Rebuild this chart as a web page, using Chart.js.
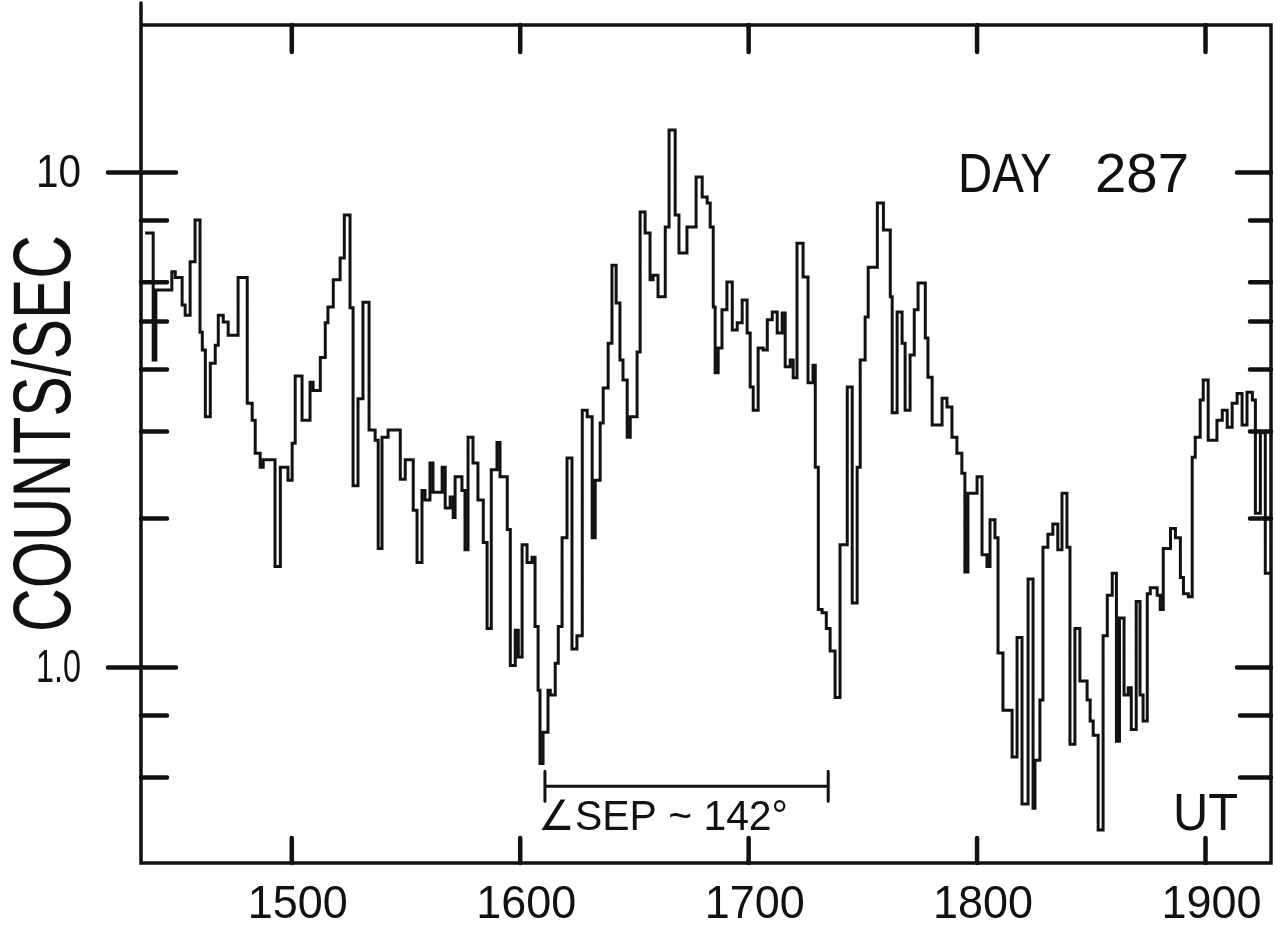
<!DOCTYPE html>
<html>
<head>
<meta charset="utf-8">
<title>Day 287 counting rate</title>
<script src="https://cdn.jsdelivr.net/npm/chart.js@4.4.1/dist/chart.umd.min.js"></script>
<style>
  html, body { margin: 0; padding: 0; background: #ffffff; }
  #wrap { width: 1285px; height: 933px; position: relative; }
</style>
</head>
<body>
<div id="wrap"><canvas id="chart" width="1285" height="933"></canvas></div>
<script>
// Step start times, in minutes of UT (900 = 1500 UT)
const utMinutes = [
  861.5, 863.6, 864.3, 868.5, 869.4, 871.2, 872.0, 873.3, 874.6, 875.9,
  876.5, 877.3, 878.6, 879.9, 880.7, 882.0, 883.3, 885.9, 888.3, 889.6,
  890.4, 891.7, 892.5, 895.6, 897.0, 899.0, 900.1, 900.9, 902.7, 904.8,
  905.6, 907.5, 908.8, 909.5, 910.9, 912.7, 913.8, 915.3, 916.1, 917.4,
  918.7, 920.3, 921.9, 922.7, 923.7, 925.3, 928.5, 929.8, 931.9, 932.9,
  934.2, 935.0, 936.3, 937.1, 939.5, 940.3, 941.6, 942.4, 942.9, 944.7,
  945.5, 946.3, 947.6, 948.9, 950.3, 951.3, 952.4, 953.9, 954.7, 956.6,
  957.4, 958.7, 959.5, 960.5, 961.8, 963.1, 963.9, 964.7, 965.2, 966.0,
  967.3, 967.9, 969.2, 970.0, 971.0, 972.3, 973.6, 974.9, 976.3, 977.6,
  978.9, 979.7, 981.0, 981.8, 983.1, 984.1, 985.2, 986.2, 987.0, 988.1,
  988.9, 990.7, 991.5, 992.8, 994.1, 994.9, 996.2, 998.1, 999.1, 1000.7,
  1001.7, 1003.8, 1006.2, 1007.8, 1009.1, 1009.9, 1010.7, 1011.2, 1012.0, 1013.0,
  1014.3, 1015.7, 1017.0, 1018.3, 1019.6, 1020.4, 1021.2, 1022.5, 1023.8, 1024.9,
  1026.2, 1027.5, 1028.8, 1029.6, 1030.9, 1031.7, 1032.7, 1034.3, 1035.6, 1036.9,
  1037.5, 1038.3, 1039.3, 1040.4, 1041.4, 1042.7, 1044.0, 1045.9, 1047.2, 1048.5,
  1049.3, 1050.6, 1051.4, 1053.8, 1055.4, 1057.2, 1057.7, 1059.0, 1060.3, 1061.1,
  1062.4, 1063.5, 1064.5, 1066.4, 1067.1, 1068.2, 1070.8, 1072.1, 1073.4, 1074.7,
  1076.0, 1076.8, 1077.6, 1080.0, 1081.3, 1082.6, 1083.4, 1084.7, 1085.5, 1086.8,
  1089.2, 1090.5, 1091.8, 1093.4, 1094.7, 1095.2, 1096.5, 1097.3, 1098.6, 1099.9,
  1101.2, 1102.3, 1103.6, 1104.4, 1105.7, 1107.0, 1108.9, 1109.7, 1110.5, 1111.8,
  1113.1, 1114.2, 1115.5, 1116.6, 1117.4, 1118.6, 1119.7, 1120.5, 1121.8, 1122.8,
  1123.6, 1124.7, 1125.5, 1127.3, 1128.1, 1128.9, 1130.8, 1132.1, 1133.4, 1134.2,
  1135.5, 1136.5, 1137.3, 1138.6, 1139.4, 1140.7, 1143.0, 1144.4, 1145.7, 1147.0,
  1148.3, 1149.6, 1150.9, 1152.3, 1153.1, 1154.4, 1155.7, 1157.2
];

// Counting rate in each step (counts/sec)
const countsPerSec = [
  7.55, 4.18, 5.79, 6.30, 6.14, 5.40, 5.15, 6.60, 8.02, 4.76,
  4.38, 3.21, 4.12, 4.48, 5.15, 4.99, 4.69, 6.14, 3.42, 3.16,
  2.71, 2.54, 2.63, 1.60, 2.54, 2.39, 2.84, 3.88, 3.16, 3.77,
  3.63, 4.23, 4.97, 5.35, 6.07, 6.72, 8.21, 5.33, 2.33, 3.49,
  5.47, 3.02, 2.88, 1.74, 2.92, 3.02, 2.40, 2.63, 2.08, 1.63,
  2.28, 2.18, 2.59, 2.26, 2.54, 2.10, 2.21, 2.01, 2.43, 2.28,
  1.73, 2.92, 2.59, 2.18, 1.79, 1.20, 2.51, 2.85, 2.43, 1.90,
  1.01, 1.19, 1.05, 1.77, 1.63, 1.67, 1.21, 0.90, 0.64, 0.74,
  0.90, 0.88, 1.02, 1.21, 1.83, 2.65, 1.09, 1.16, 3.31, 3.21,
  1.83, 2.39, 3.12, 3.67, 4.52, 6.50, 5.45, 4.18, 3.81, 2.92,
  3.21, 4.34, 8.32, 7.55, 6.07, 6.20, 5.61, 7.76, 12.18, 8.21,
  6.88, 7.76, 9.79, 8.92, 8.68, 7.76, 5.35, 3.94, 4.42, 5.28,
  6.01, 4.81, 4.97, 5.53, 4.74, 3.69, 3.31, 4.42, 4.38, 5.04,
  5.23, 4.74, 5.20, 4.05, 4.18, 3.85, 7.20, 6.15, 3.76, 4.08,
  2.54, 1.31, 1.29, 1.20, 1.08, 0.87, 1.77, 3.69, 1.35, 2.54,
  4.18, 5.11, 6.44, 8.68, 7.65, 5.61, 3.27, 5.23, 4.52, 3.31,
  4.28, 5.28, 5.98, 4.63, 3.86, 3.09, 3.50, 3.36, 2.92, 2.71,
  2.47, 1.56, 2.25, 2.43, 1.69, 1.60, 1.99, 1.83, 1.07, 0.82,
  0.66, 1.15, 0.53, 1.51, 0.52, 0.65, 0.86, 1.75, 1.86, 1.95,
  1.73, 2.25, 1.75, 0.70, 1.20, 0.94, 0.86, 0.78, 0.73, 0.47,
  1.16, 1.40, 1.55, 0.71, 1.26, 0.88, 0.91, 0.75, 1.36, 0.88,
  0.78, 1.41, 1.45, 1.40, 1.31, 1.74, 1.91, 1.83, 1.52, 1.41,
  1.39, 2.66, 2.92, 3.47, 3.81, 2.88, 3.16, 3.31, 3.06, 3.42,
  3.58, 3.09, 3.60, 3.47, 2.05, 2.98, 1.55, 1.55
];

// Hour ticks along the time axis
const xTickMinutes = [900, 960, 1020, 1080, 1140];
const xTickLabels = ['1500', '1600', '1700', '1800', '1900'];

// Logarithmic count-rate ticks; only the decades carry labels
const yTickValues = [0.6, 0.8, 1, 2, 3, 4, 5, 6, 8, 10];
const yMajorValues = [1, 10];
const yMajorLabels = ['1.0', '10'];

// Angular separation bar between the two minima (UT minutes, counts/sec level)
const sepSpanMinutes = [966.5, 1040.9];
const sepLevel = [0.576];
const sepLabel = ['\u2220SEP ~ 142\u00B0'];

const FONT = '"Liberation Sans", Arial, sans-serif';
const INK = '#111111';

// Draw text with a given cap height, stretched horizontally to a given width.
function fitText(ctx, str, x, baseY, capH, width, opts = {}) {
  const size = capH / 0.716;
  ctx.save();
  ctx.font = `${size}px ${FONT}`;
  const natural = ctx.measureText(str).width;
  const sx = width / natural;
  ctx.translate(x, baseY);
  if (opts.rotate) ctx.rotate(opts.rotate);
  ctx.scale(sx, 1);
  ctx.fillStyle = INK;
  ctx.textBaseline = 'alphabetic';
  ctx.textAlign = 'left';
  ctx.fillText(str, 0, 0);
  ctx.restore();
}

const framePlugin = {
  id: 'frame',
  afterDatasetsDraw(chart) {
    const { ctx, chartArea: a, scales } = chart;
    const xs = scales.x, ys = scales.y;
    ctx.save();
    ctx.strokeStyle = INK;
    ctx.lineCap = 'round';

    // Box; the left axis runs a little above the top edge
    ctx.lineWidth = 3.5;
    ctx.beginPath();
    ctx.moveTo(a.left, a.top - 22);
    ctx.lineTo(a.left, a.bottom);
    ctx.lineTo(a.right, a.bottom);
    ctx.lineTo(a.right, a.top);
    ctx.lineTo(a.left, a.top);
    ctx.stroke();

    // Time ticks on the bottom and top edges
    ctx.lineWidth = 4.5;
    xTickMinutes.forEach(t => {
      const px = xs.getPixelForValue(t);
      ctx.beginPath();
      ctx.moveTo(px, a.bottom);
      ctx.lineTo(px, a.bottom - 25);
      ctx.moveTo(px, a.top);
      ctx.lineTo(px, a.top + 27);
      ctx.stroke();
    });

    // Count-rate ticks on the left and right edges
    yTickValues.forEach(v => {
      const py = ys.getPixelForValue(v);
      const major = yMajorValues.includes(v);
      ctx.beginPath();
      if (major) {
        ctx.moveTo(a.left - 33, py);
        ctx.lineTo(a.left + 35, py);
      } else {
        ctx.moveTo(a.left, py);
        ctx.lineTo(a.left + 26, py);
      }
      const rLen = major ? 34 : (v < 1 ? 31 : 21);
      ctx.moveTo(a.right, py);
      ctx.lineTo(a.right - rLen, py);
      ctx.stroke();
    });

    // Separation bar with end caps
    const sx0 = xs.getPixelForValue(sepSpanMinutes[0]);
    const sx1 = xs.getPixelForValue(sepSpanMinutes[1]);
    const sy = ys.getPixelForValue(sepLevel[0]);
    ctx.lineWidth = 3;
    ctx.beginPath();
    ctx.moveTo(sx0, sy);
    ctx.lineTo(sx1, sy);
    ctx.moveTo(sx0, sy - 15);
    ctx.lineTo(sx0, sy + 15);
    ctx.moveTo(sx1, sy - 15);
    ctx.lineTo(sx1, sy + 15);
    ctx.stroke();
    ctx.restore();

    // Tick labels
    xTickMinutes.forEach((t, i) => {
      const px = xs.getPixelForValue(t) + 6;
      fitText(ctx, xTickLabels[i], px - 50, a.bottom + 55, 33, 100);
    });
    yMajorValues.forEach((v, i) => {
      const py = ys.getPixelForValue(v);
      fitText(ctx, yMajorLabels[i], a.left - 105, py + 14, 33, 45);
    });

    // Axis title and annotations
    fitText(ctx, 'COUNTS/SEC', 70, 632, 58, 397, { rotate: -Math.PI / 2 });
    fitText(ctx, 'DAY', 958, 192, 40, 94);
    fitText(ctx, '287', 1095, 192, 40, 94);
    fitText(ctx, 'UT', 1173, 830, 37, 65);
    fitText(ctx, sepLabel[0], sx0 - 7, sy + 44, 30, 250);
  }
};

const points = utMinutes.map((t, i) => ({ x: t, y: countsPerSec[i] }));

new Chart(document.getElementById('chart'), {
  type: 'line',
  data: {
    datasets: [{
      label: 'Counts/sec',
      data: points,
      stepped: true,
      borderColor: INK,
      borderWidth: 3,
      pointRadius: 0,
      fill: false,
      tension: 0
    }]
  },
  options: {
    responsive: false,
    animation: false,
    devicePixelRatio: 1,
    layout: { padding: { left: 141, top: 25, right: 14, bottom: 70 } },
    plugins: { legend: { display: false }, tooltip: { enabled: false }, title: { display: false } },
    scales: {
      x: { type: 'linear', min: 860.4, max: 1157.2, display: false },
      y: { type: 'logarithmic', min: 0.403, max: 19.86, display: false }
    }
  },
  plugins: [framePlugin]
});
</script>
</body>
</html>
